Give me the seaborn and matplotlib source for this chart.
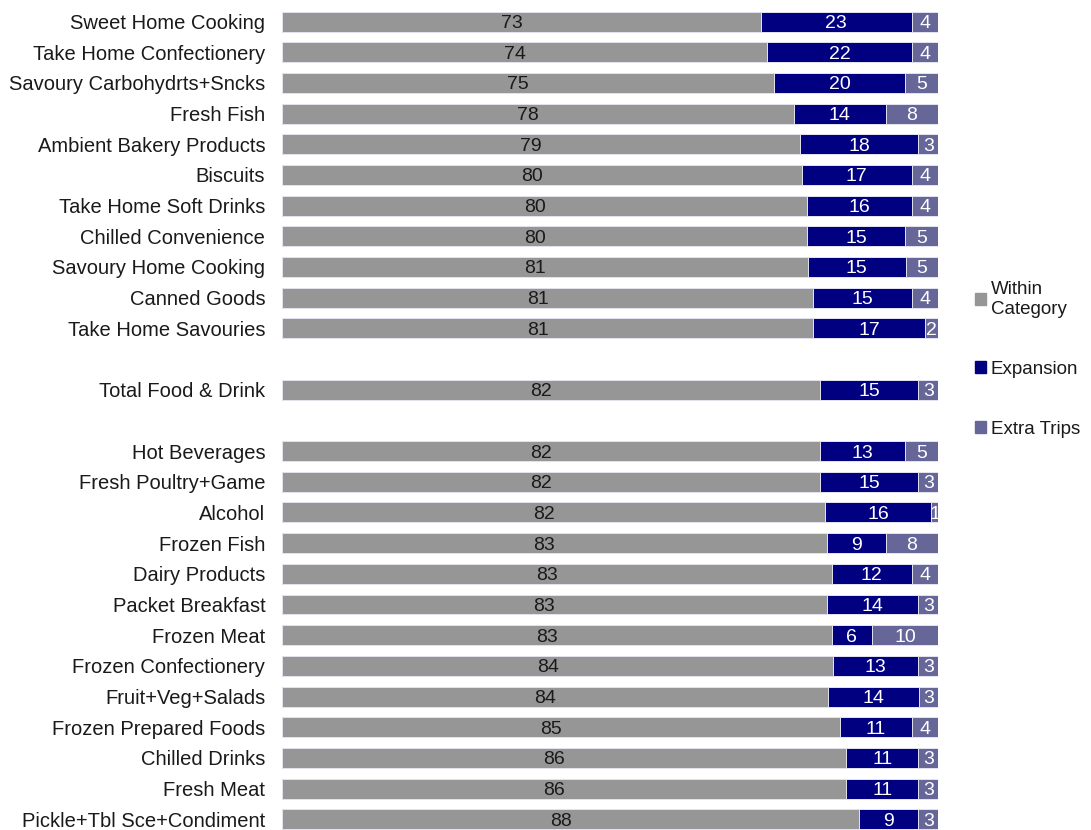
import pandas as pd
import matplotlib
matplotlib.use("Agg")
import matplotlib.pyplot as plt
import matplotlib.patches as mpatches
import seaborn as sns

categories = [
    "Sweet Home Cooking", "Take Home Confectionery", "Savoury Carbohydrts+Sncks",
    "Fresh Fish", "Ambient Bakery Products", "Biscuits", "Take Home Soft Drinks",
    "Chilled Convenience", "Savoury Home Cooking", "Canned Goods",
    "Take Home Savouries", "Total Food & Drink", "Hot Beverages",
    "Fresh Poultry+Game", "Alcohol", "Frozen Fish", "Dairy Products",
    "Packet Breakfast", "Frozen Meat", "Frozen Confectionery",
    "Fruit+Veg+Salads", "Frozen Prepared Foods", "Chilled Drinks",
    "Fresh Meat", "Pickle+Tbl Sce+Condiment",
]
within = [73, 74, 75, 78, 79, 80, 80, 80, 81, 81, 81, 82, 82, 82, 82,
          83, 83, 83, 83, 84, 84, 85, 86, 86, 88]
expansion = [23, 22, 20, 14, 18, 17, 16, 15, 15, 15, 17, 15, 13, 15, 16,
             9, 12, 14, 6, 13, 14, 11, 11, 11, 9]
extra = [4, 4, 5, 8, 3, 4, 4, 5, 5, 4, 2, 3, 5, 3, 1,
         8, 4, 3, 10, 3, 3, 4, 3, 3, 3]

series = ["Within\nCategory", "Expansion", "Extra Trips"]
colors = ["#969696", "#000080", "#666699"]

# row order with blank spacer rows around the total
order = categories[:11] + [" "] + [categories[11]] + ["  "] + categories[12:]

df = pd.DataFrame({"cat": categories, "within": within,
                   "expansion": expansion, "extra": extra})
tot = df["within"] + df["expansion"] + df["extra"]
# bars are shown as shares of 100%
df["w"] = df["within"] / tot * 100
df["e"] = df["expansion"] / tot * 100
df["x"] = df["extra"] / tot * 100
df["c1"] = df["w"]
df["c2"] = df["w"] + df["e"]
df["c3"] = df["c2"] + df["x"]

sns.set_style("white")
plt.rcParams["font.family"] = ["Liberation Sans", "DejaVu Sans"]

fig = plt.figure(figsize=(10.91, 8.30), dpi=100)
ax = fig.add_axes([0.2585, 0.0, 0.6013, 0.987])

for col, color in zip(["c3", "c2", "c1"], colors[::-1]):
    sns.barplot(data=df, x=col, y="cat", order=order, color=color,
                saturation=1, width=0.65, edgecolor="#e4e4f0",
                linewidth=0.7, ax=ax)

pos = {c: i for i, c in enumerate(order)}
for _, r in df.iterrows():
    y = pos[r["cat"]]
    ax.text(r["w"] / 2 - 1.5, y, f"{r['within']}", ha="center",
            va="center_baseline", fontsize=14, color="#1a1a1a")
    ax.text(r["w"] + r["e"] / 2, y, f"{r['expansion']}", ha="center",
            va="center_baseline", fontsize=14, color="white")
    ax.text(r["c2"] + r["x"] / 2, y, f"{r['extra']}", ha="center",
            va="center_baseline", fontsize=14, color="white")

ax.set_xlim(0, 100)
ax.set_ylim(len(order) - 1 + 0.35, -0.35)
ax.set_xlabel("")
ax.set_ylabel("")
ax.set_xticks([])
ax.tick_params(axis="y", length=0, labelsize=14.5, pad=12, labelcolor="#1a1a1a")
sns.despine(ax=ax, left=True, bottom=True)

handles = [mpatches.Patch(color=c) for c in colors]
fig.legend(handles, series, loc="center left", bbox_to_anchor=(0.878, 0.567),
           frameon=False, fontsize=13.5, handlelength=0.6, handleheight=0.6,
           handletextpad=0.25, labelspacing=2.3, labelcolor="#1a1a1a")

fig.savefig("out.png", dpi=100)
